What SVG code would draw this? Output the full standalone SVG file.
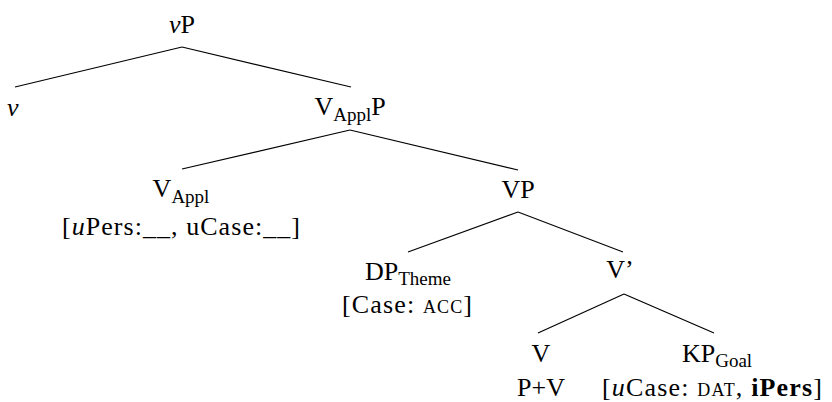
<svg xmlns="http://www.w3.org/2000/svg" width="832" height="402" viewBox="0 0 832 402">
<style>
text{font-family:"Liberation Serif","DejaVu Serif",serif;font-size:26px;fill:#000}
.m{text-anchor:middle}
.sub{font-size:19px}
.sc{font-size:18px}
.i{font-style:italic}
.b{font-weight:bold}
line{stroke:#000;stroke-width:1.2}
</style>
<rect width="832" height="402" fill="#fff"/>
<g id="connectors">
<line x1="182" y1="47" x2="15" y2="87"/>
<line x1="182" y1="47" x2="351" y2="87"/>
<line x1="350" y1="130" x2="182" y2="169"/>
<line x1="350" y1="130" x2="518" y2="170"/>
<line x1="518" y1="212" x2="408" y2="252"/>
<line x1="518" y1="212" x2="623" y2="252"/>
<line x1="624" y1="294" x2="538" y2="333"/>
<line x1="624" y1="294" x2="714" y2="333"/>
</g>
<g id="vP"><text class="m" x="182" y="33"><tspan class="i">v</tspan>P</text></g>
<g id="v"><text x="7" y="116" class="i">v</text></g>
<g id="VApplP"><text class="m" x="350" y="115">V<tspan class="sub" dy="6">Appl</tspan><tspan dy="-6">P</tspan></text></g>
<g id="VAppl">
<text class="m" x="181" y="197">V<tspan class="sub" dy="6">Appl</tspan></text>
<text class="m" x="181" y="235" textLength="238" lengthAdjust="spacing">[<tspan class="i">u</tspan>Pers:__, uCase:__]</text>
</g>
<g id="VP"><text class="m" x="518" y="198">VP</text></g>
<g id="DPTheme">
<text class="m" x="408" y="280">DP<tspan class="sub" dy="5">Theme</tspan></text>
<text class="m" x="407" y="313" textLength="130" lengthAdjust="spacing">[Case: <tspan class="sc">ACC</tspan>]</text>
</g>
<g id="Vbar"><text class="m" x="620" y="278">V’</text></g>
<g id="V">
<text class="m" x="541" y="362">V</text>
<text class="m" x="541" y="396">P+V</text>
</g>
<g id="KPGoal">
<text class="m" x="717" y="362">KP<tspan class="sub" dy="5">Goal</tspan></text>
<text class="m" x="712" y="396" textLength="220" lengthAdjust="spacing">[<tspan class="i">u</tspan>Case: <tspan class="sc">DAT</tspan>, <tspan class="b">iPers</tspan>]</text>
</g>
</svg>
